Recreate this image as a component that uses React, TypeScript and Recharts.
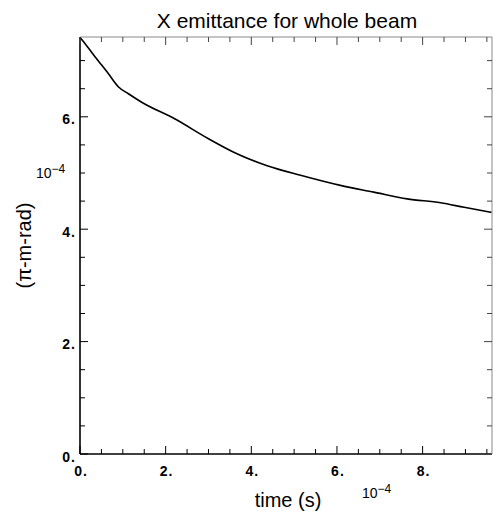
import React from 'react';
import { LineChart, Line, XAxis, YAxis, Label } from 'recharts';

// time in units of 1e-4 s
const times = [0, 0.12, 0.35, 0.66, 0.9, 1.13, 1.44, 2.22, 3.0, 3.59, 4.37, 5.15, 6.08, 6.86, 7.64, 8.42, 8.97, 9.61];
// emittance in units of 1e-4 pi-m-rad
const emittance = [7.41, 7.3, 7.07, 6.77, 6.53, 6.41, 6.26, 5.96, 5.61, 5.37, 5.13, 4.96, 4.78, 4.66, 4.54, 4.47, 4.39, 4.3];

const xTicks = [0, 0.5, 1, 1.5, 2, 2.5, 3, 3.5, 4, 4.5, 5, 5.5, 6, 6.5, 7, 7.5, 8, 8.5, 9, 9.5];
const yTicks = [0, 0.5, 1, 1.5, 2, 2.5, 3, 3.5, 4, 4.5, 5, 5.5, 6, 6.5, 7];
const xLabels = [0, 2, 4, 6, 8];
const yLabels = [0, 2, 4, 6];

const title = 'X emittance for whole beam';
const xTitle = 'time (s)';
const yTitle = '(\u03c0-m-rad)';
const expBase = '10';
const expPow = '\u22124';

const data = times.map((t, i) => ({ t, v: emittance[i] }));

const FONT = '"Liberation Sans", Arial, Helvetica, sans-serif';
const MAJOR = 8;
const MINOR = 5;

const LeftTick = (props: any) => {
  const { x, y, payload } = props;
  const v = payload.value;
  const major = yLabels.includes(v);
  return (
    <g>
      <line x1={x} x2={x + (major ? MAJOR : MINOR)} y1={y} y2={y} stroke="#000" strokeWidth={1} />
      {major && (
        <text x={x - 4} y={y} dy={7.5} textAnchor="end" fontFamily={FONT} fontSize={14} fontWeight="bold" letterSpacing={1} fill="#000">
          {`${v}.`}
        </text>
      )}
    </g>
  );
};

const RightTick = (props: any) => {
  const { x, y, payload } = props;
  const major = yLabels.includes(payload.value);
  return <line x1={x} x2={x - (major ? MAJOR : MINOR)} y1={y} y2={y} stroke="#444" strokeWidth={1} />;
};

const BottomTick = (props: any) => {
  const { x, y, payload } = props;
  const v = payload.value;
  const major = xLabels.includes(v);
  return (
    <g>
      <line x1={x} x2={x} y1={y} y2={y - (major ? MAJOR : MINOR)} stroke="#000" strokeWidth={1} />
      {major && (
        <text x={x + 1} y={y} dy={22} textAnchor="middle" fontFamily={FONT} fontSize={14} fontWeight="bold" letterSpacing={1} fill="#000">
          {`${v}.`}
        </text>
      )}
    </g>
  );
};

const TopTick = (props: any) => {
  const { x, y, payload } = props;
  const major = xLabels.includes(payload.value);
  return <line x1={x} x2={x} y1={y} y2={y + (major ? MAJOR : MINOR)} stroke="#444" strokeWidth={1} />;
};

const YLabelContent = (props: any) => {
  const vb = props.viewBox;
  const ax = vb.x + vb.width; // axis line position
  const cy = vb.y + vb.height / 2;
  return (
    <g>
      <text
        x={ax - 56}
        y={cy}
        transform={`rotate(-90 ${ax - 56} ${cy})`}
        textAnchor="middle"
        dominantBaseline="central"
        fontFamily={FONT}
        fontSize={20}
        fill="#000"
      >
        {yTitle}
      </text>
      <text x={ax - 44} y={vb.y + 141} fontFamily={FONT} fontSize={14} fill="#000">
        {expBase}
        <tspan dy={-5} fontSize={12}>{expPow}</tspan>
      </text>
    </g>
  );
};

const XLabelContent = (props: any) => {
  const vb = props.viewBox;
  return (
    <g>
      <text x={vb.x + vb.width / 2 + 2} y={vb.y + 53} textAnchor="middle" fontFamily={FONT} fontSize={20} fill="#000">
        {xTitle}
      </text>
      <text x={vb.x + 282} y={vb.y + 44} fontFamily={FONT} fontSize={14} fill="#000">
        {expBase}
        <tspan dy={-5} fontSize={12}>{expPow}</tspan>
      </text>
    </g>
  );
};

const TitleContent = (props: any) => {
  const vb = props.viewBox;
  const ay = vb.y + vb.height; // axis line position
  return (
    <text x={vb.x + vb.width / 2 + 1} y={ay - 9} textAnchor="middle" fontFamily={FONT} fontSize={21} fill="#000">
      {title}
    </text>
  );
};

export default function App() {
  return (
    <div style={{ position: 'absolute', left: 0, top: 0, background: '#fff' }}>
      <LineChart width={493} height={511} data={data} margin={{ top: 0, right: 0, bottom: 0, left: 0 }}>
        <XAxis
          xAxisId="bottom"
          dataKey="t"
          type="number"
          domain={[0, 9.62]}
          ticks={xTicks}
          interval={0}
          allowDataOverflow
          height={57}
          tickSize={0}
          tickMargin={0}
          tickLine={false}
          axisLine={{ stroke: '#000', strokeWidth: 1.6 }}
          tick={(p: any) => <BottomTick {...p} />}
        >
          <Label content={(p: any) => <XLabelContent {...p} />} />
        </XAxis>
        <XAxis
          xAxisId="top"
          orientation="top"
          dataKey="t"
          type="number"
          domain={[0, 9.62]}
          ticks={xTicks}
          interval={0}
          allowDataOverflow
          height={37}
          tickSize={0}
          tickMargin={0}
          tickLine={false}
          axisLine={{ stroke: '#888', strokeWidth: 1 }}
          tick={(p: any) => <TopTick {...p} />}
        >
          <Label content={(p: any) => <TitleContent {...p} />} />
        </XAxis>
        <YAxis
          yAxisId="left"
          type="number"
          domain={[0, 7.42]}
          ticks={yTicks}
          interval={0}
          allowDataOverflow
          width={80}
          tickSize={0}
          tickMargin={0}
          tickLine={false}
          axisLine={{ stroke: '#000', strokeWidth: 1.6 }}
          tick={(p: any) => <LeftTick {...p} />}
        >
          <Label content={(p: any) => <YLabelContent {...p} />} />
        </YAxis>
        <YAxis
          yAxisId="right"
          orientation="right"
          type="number"
          domain={[0, 7.42]}
          ticks={yTicks}
          interval={0}
          allowDataOverflow
          width={1}
          tickSize={0}
          tickMargin={0}
          tickLine={false}
          axisLine={{ stroke: '#888', strokeWidth: 1 }}
          tick={(p: any) => <RightTick {...p} />}
        />
        <Line
          xAxisId="bottom"
          yAxisId="left"
          type="monotone"
          dataKey="v"
          stroke="#000"
          strokeWidth={1.6}
          dot={false}
          isAnimationActive={false}
        />
      </LineChart>
    </div>
  );
}
